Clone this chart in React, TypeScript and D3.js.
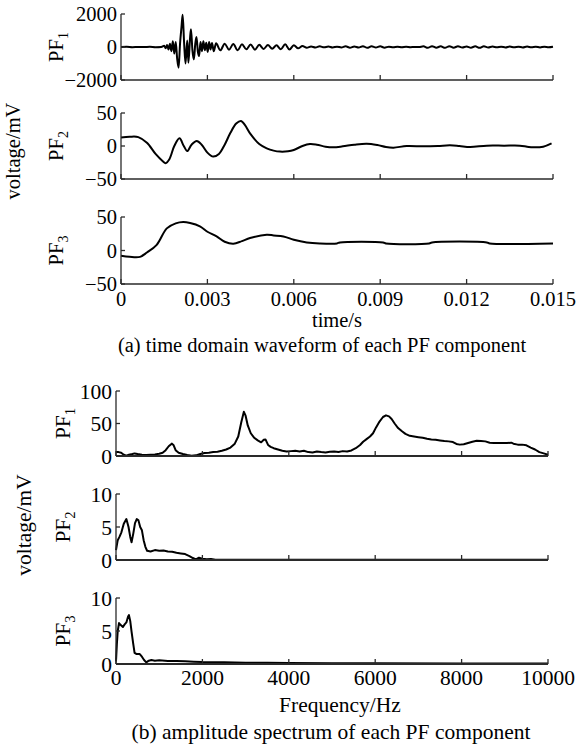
import React from "react";
import * as d3 from "d3";

// ---------- DATA ----------
const timeTicks = [0, 0.003, 0.006, 0.009, 0.012, 0.015];
const timeTickLabels = ["0", "0.003", "0.006", "0.009", "0.012", "0.015"];
const freqTicks = [0, 2000, 4000, 6000, 8000, 10000];
const freqTickLabels = ["0", "2000", "4000", "6000", "8000", "10000"];

const pf1YTicks = [-2000, 0, 2000];
const pf23YTicks = [-50, 0, 50];
const spec1YTicks = [0, 50, 100];
const spec23YTicks = [0, 5, 10];

// PF1 time waveform [t (s), voltage (mV)]
const pf1Wave: [number, number][] = [
  [0, 0], [0.0002, 10], [0.0004, -10], [0.0006, 5], [0.0008, -5], [0.001, 10], [0.0012, -10], [0.0014, 0],
  [0.0015, 80], [0.00155, -80], [0.0016, 120], [0.00165, -150], [0.0017, 200], [0.00175, -250],
  [0.0018, 350], [0.00185, -400], [0.0019, 300], [0.00195, -700], [0.002, -1250], [0.00205, 200],
  [0.0021, 1200], [0.00214, 1950], [0.00219, 300], [0.00224, -1000], [0.0023, 400], [0.00234, -950],
  [0.0024, 600], [0.00243, 1080], [0.00248, -200], [0.00253, -750], [0.00258, 200], [0.00262, 600],
  [0.00267, -300], [0.00271, -550], [0.00276, 300], [0.00281, -250], [0.00286, 350], [0.00291, -200],
  [0.00296, 250], [0.00301, -300], [0.00306, 300], [0.00311, -150], [0.00316, 250], [0.00322, -250],
  [0.0033, 220], [0.00345, -200], [0.0036, 200], [0.00375, -160], [0.0039, 180], [0.00405, -200],
  [0.0042, 160], [0.00435, -140], [0.0045, 150], [0.00465, -160], [0.0048, 130], [0.00495, -120],
  [0.0051, 120], [0.00525, -100], [0.0054, 100], [0.00555, -140], [0.0057, 160], [0.00585, -150],
  [0.006, 110], [0.00615, -80], [0.0063, 60], [0.00645, -40], [0.0066, 30], [0.00675, -30],
  [0.0069, 40], [0.00705, -20], [0.0072, 30], [0.00735, -30], [0.0075, 20], [0.00765, -30],
  [0.0078, 40], [0.00795, -40], [0.0081, 30], [0.00825, -30], [0.0084, 50], [0.00855, -50],
  [0.0087, 40], [0.00885, -30], [0.009, 40], [0.00915, -40], [0.0093, 20], [0.00945, -20],
  [0.0096, 10], [0.00975, -10], [0.0099, 10], [0.01005, -10], [0.0102, 0], [0.01035, 0],
  [0.0105, 40], [0.01065, -50], [0.0108, 50], [0.01095, -40], [0.0111, 40], [0.01125, -50],
  [0.0114, 50], [0.01155, -40], [0.0117, 40], [0.01185, -30], [0.012, 30], [0.01215, -40],
  [0.0123, 40], [0.01245, -50], [0.0126, 40], [0.01275, -30], [0.0129, 30], [0.01305, -20],
  [0.0132, 20], [0.01335, -30], [0.0135, 30], [0.01365, -20], [0.0138, 20], [0.01395, -30],
  [0.0141, 30], [0.01425, -20], [0.0144, 20], [0.01455, -30], [0.0147, 20], [0.01485, -20], [0.015, 10],
];

// PF2 time waveform
const pf2Wave: [number, number][] = [
  [0, 13], [0.0003, 14], [0.0006, 13.5], [0.0009, 5], [0.0012, -12], [0.00145, -23], [0.00155, -26],
  [0.00168, -20], [0.00185, 0], [0.00203, 11.6], [0.00218, 0], [0.0023, -7.6], [0.00245, 2],
  [0.00263, 7.6], [0.0028, 2], [0.003, -10], [0.0032, -16], [0.0034, -12], [0.0036, 2], [0.0038, 20],
  [0.004, 34], [0.00417, 38], [0.0043, 32], [0.0045, 18], [0.0048, 3], [0.00506, -3.5], [0.0053, -7],
  [0.00552, -8.5], [0.0058, -8], [0.006, -6], [0.0063, 0], [0.00656, 3], [0.0068, 2], [0.0071, -1],
  [0.00737, -2], [0.0077, -0.5], [0.0081, 2], [0.00853, 3.5], [0.0089, 1.5], [0.0092, -1.5],
  [0.00946, -2.5], [0.00992, 0], [0.0105, -0.5], [0.011, 0], [0.01142, 1], [0.01175, 0],
  [0.01212, -1.5], [0.0127, 0.5], [0.0133, 0.5], [0.01385, 0.5], [0.0141, -1], [0.0143, -2],
  [0.01466, -1], [0.01495, 4],
];

// PF3 time waveform
const pf3Wave: [number, number][] = [
  [0, -8], [0.0003, -9.5], [0.00066, -9.5], [0.0009, -3], [0.00124, 8.5], [0.00159, 33], [0.0019, 40.5],
  [0.00216, 42.5], [0.0024, 41], [0.00274, 36], [0.003, 28], [0.00332, 21], [0.0036, 13], [0.0039, 10],
  [0.0042, 14], [0.00448, 18.6], [0.00506, 23.5], [0.0053, 22.5], [0.00564, 21], [0.006, 16],
  [0.00645, 12], [0.0069, 10.5], [0.0075, 10.5], [0.0076, 12], [0.0091, 12], [0.0092, 10.5],
  [0.0107, 10.5], [0.0108, 12], [0.0127, 12], [0.0128, 10.5], [0.015, 10.5],
];

// PF1 amplitude spectrum [f (Hz), amplitude (mV)]
const pf1Spec: [number, number][] = [
  [0, 6], [60, 6], [120, 5], [180, 2], [240, 0.5], [300, 2], [380, 3], [430, 4], [500, 3], [600, 2],
  [700, 1.5], [800, 2], [900, 2.5], [1000, 3.5], [1080, 5], [1150, 9], [1220, 15], [1290, 19],
  [1330, 17], [1380, 9], [1450, 5], [1550, 3], [1650, 1.5], [1750, 0.5], [1850, 1], [1950, 3],
  [2050, 4.5], [2150, 5], [2250, 6], [2350, 6.5], [2450, 8], [2550, 10], [2650, 13], [2750, 19],
  [2830, 30], [2900, 52], [2960, 68], [3000, 62], [3050, 47], [3120, 35], [3200, 28], [3280, 24],
  [3360, 21], [3420, 25], [3460, 25.5], [3520, 17], [3580, 14], [3650, 12], [3750, 10], [3850, 8],
  [3950, 7], [4050, 7.5], [4150, 8], [4250, 7], [4350, 8], [4450, 6], [4550, 5.5], [4650, 7],
  [4750, 6], [4850, 5.5], [4950, 6.5], [5050, 7], [5150, 6], [5250, 7.5], [5350, 7], [5450, 8.5],
  [5550, 12], [5650, 17], [5720, 22], [5800, 26], [5880, 30], [5950, 35], [6020, 44], [6100, 53],
  [6180, 60], [6250, 62.5], [6320, 61], [6380, 57], [6450, 50], [6530, 43], [6620, 38], [6700, 34],
  [6800, 31], [6900, 30], [7000, 29], [7100, 28], [7200, 26.5], [7300, 25.5], [7400, 25], [7500, 24],
  [7600, 23], [7700, 22.5], [7800, 21.5], [7880, 18.5], [7960, 17.5], [8050, 18], [8150, 20],
  [8250, 22], [8350, 23.5], [8450, 23], [8550, 22.5], [8650, 20.5], [8750, 20], [8850, 20],
  [8950, 20], [9050, 20], [9150, 20.5], [9200, 19], [9300, 17.5], [9400, 17.5], [9500, 16.5],
  [9600, 13], [9700, 10], [9800, 6], [9900, 4], [10000, 2],
];

// PF2 amplitude spectrum
const pf2Spec: [number, number][] = [
  [0, 1.5], [40, 3], [80, 3.5], [125, 4.2], [180, 5.5], [240, 6.2], [290, 5], [330, 3.5], [360, 2.7],
  [400, 4], [440, 5.6], [480, 6.2], [520, 6], [560, 5], [600, 4.5], [640, 3], [680, 2], [720, 1.4],
  [800, 1.3], [900, 1.5], [1000, 1.4], [1100, 1.45], [1200, 1.3], [1300, 1.25], [1400, 1.1],
  [1500, 1.0], [1600, 0.9], [1700, 0.6], [1780, 0.3], [1850, 0.1], [1920, 0.35], [2000, 0.2],
  [2100, 0.1], [2200, 0.15], [2300, 0.05], [3000, 0.05], [5000, 0.04], [7000, 0.04], [10000, 0.04],
];

// PF3 amplitude spectrum
const pf3Spec: [number, number][] = [
  [0, 0.4], [20, 3], [40, 5], [70, 6.2], [110, 5.9], [160, 5.6], [200, 6], [240, 6.3], [280, 7.2],
  [300, 7.4], [330, 6.5], [360, 4.9], [400, 3], [430, 1.7], [480, 1.5], [550, 1.5], [600, 1.1],
  [650, 0.6], [700, 0.25], [760, 0.5], [820, 0.6], [900, 0.5], [1000, 0.55], [1200, 0.45],
  [1400, 0.45], [1600, 0.4], [1800, 0.35], [2000, 0.3], [2500, 0.25], [3000, 0.2], [3500, 0.2],
  [4000, 0.15], [5000, 0.1], [6000, 0.1], [8000, 0.08], [10000, 0.08],
];

// ---------- LAYOUT ----------
const W = 579;
const H = 752;
const FONT = "'Liberation Serif', 'Times New Roman', serif";
const FSA = 20.5;
const FSB = 21.5;
const AXIS = "#2a2a2a";

type Panel = {
  sub: string;
  data: [number, number][];
  domain: [number, number];
  ticks: number[];
  top: number;
  bottom: number;
  curve: d3.CurveFactory;
};

function fmt(v: number) {
  return v < 0 ? "\u2212" + String(-v) : String(v);
}

function PanelView({
  p,
  x,
  xTicks,
  labelX,
  tickLabelX,
  fs,
  axisW,
}: {
  p: Panel;
  x: d3.ScaleLinear<number, number>;
  xTicks: number[];
  labelX: number;
  tickLabelX: number;
  fs: number;
  axisW: number;
}) {
  const y = d3.scaleLinear().domain(p.domain).range([p.bottom, p.top]);
  const line = d3
    .line<[number, number]>()
    .x((d) => x(d[0]))
    .y((d) => y(d[1]))
    .curve(p.curve);
  const [x0, x1] = x.range();
  const midY = (p.top + p.bottom) / 2;
  return (
    <g>
      <path d={line(p.data) || ""} fill="none" stroke="#000" strokeWidth={2} strokeLinejoin="round" />
      <line x1={x0} x2={x0} y1={p.top} y2={p.bottom} stroke={AXIS} strokeWidth={1.3} />
      <line x1={x0} x2={x1} y1={p.bottom} y2={p.bottom} stroke={AXIS} strokeWidth={axisW} />
      {p.ticks.map((t) => (
        <g key={"y" + t}>
          <line x1={x0} x2={x0 + 4} y1={y(t)} y2={y(t)} stroke={AXIS} strokeWidth={1.3} />
          <text x={tickLabelX} y={y(t)} dy="0.35em" textAnchor="end" fontSize={fs} fontFamily={FONT}>
            {fmt(t)}
          </text>
        </g>
      ))}
      {xTicks.map((t) => (
        <line key={"x" + t} x1={x(t)} x2={x(t)} y1={p.bottom} y2={p.bottom - 5} stroke={AXIS} strokeWidth={1.3} />
      ))}
      <text
        transform={`translate(${labelX},${midY}) rotate(-90)`}
        textAnchor="middle"
        fontSize={fs}
        fontFamily={FONT}
      >
        PF
        <tspan fontSize={fs * 0.68} dy={5}>
          {p.sub}
        </tspan>
      </text>
    </g>
  );
}

export default function App() {
  const xA = d3.scaleLinear().domain([0, 0.015]).range([121, 553]);
  const xB = d3.scaleLinear().domain([0, 10000]).range([116, 548]);

  const smooth = d3.curveCatmullRom.alpha(0.5);
  const panelsA: Panel[] = [
    { sub: "1", data: pf1Wave, domain: [-2000, 2000], ticks: pf1YTicks, top: 14, bottom: 80, curve: d3.curveMonotoneX },
    { sub: "2", data: pf2Wave, domain: [-50, 50], ticks: pf23YTicks, top: 113, bottom: 179, curve: smooth },
    { sub: "3", data: pf3Wave, domain: [-50, 50], ticks: pf23YTicks, top: 217, bottom: 284, curve: smooth },
  ];
  const panelsB: Panel[] = [
    { sub: "1", data: pf1Spec, domain: [0, 100], ticks: spec1YTicks, top: 391, bottom: 456, curve: d3.curveLinear },
    { sub: "2", data: pf2Spec, domain: [0, 10], ticks: spec23YTicks, top: 494, bottom: 560, curve: d3.curveLinear },
    { sub: "3", data: pf3Spec, domain: [0, 10], ticks: spec23YTicks, top: 598, bottom: 664, curve: d3.curveLinear },
  ];

  return (
    <svg
      width={W}
      height={H}
      style={{ position: "absolute", left: 0, top: 0, background: "#fff" }}
      fontFamily={FONT}
    >
      <rect width={W} height={H} fill="#fff" />
      {panelsA.map((p) => (
        <PanelView key={"a" + p.sub} p={p} x={xA} xTicks={timeTicks} labelX={63} tickLabelX={117} fs={FSA} axisW={1.3} />
      ))}
      {timeTicks.map((t, i) => (
        <text key={"ta" + t} x={xA(t)} y={306} textAnchor="middle" fontSize={FSA}>
          {timeTickLabels[i]}
        </text>
      ))}
      <text x={337} y={327} textAnchor="middle" fontSize={FSA}>time/s</text>
      <text x={322} y={352} textAnchor="middle" fontSize={FSA}>(a) time domain waveform of each PF component</text>
      <text transform="translate(20,151) rotate(-90)" textAnchor="middle" fontSize={FSA}>voltage/mV</text>

      {panelsB.map((p) => (
        <PanelView key={"b" + p.sub} p={p} x={xB} xTicks={freqTicks} labelX={70} tickLabelX={112} fs={FSB} axisW={1.8} />
      ))}
      {freqTicks.map((t, i) => (
        <text key={"tb" + t} x={xB(t)} y={685} textAnchor="middle" fontSize={FSB}>
          {freqTickLabels[i]}
        </text>
      ))}
      <text x={340} y={712} textAnchor="middle" fontSize={FSB}>Frequency/Hz</text>
      <text x={331} y={739} textAnchor="middle" fontSize={FSB}>(b) amplitude spectrum of each PF component</text>
      <text transform="translate(31,525) rotate(-90)" textAnchor="middle" fontSize={FSB}>voltage/mV</text>
    </svg>
  );
}
